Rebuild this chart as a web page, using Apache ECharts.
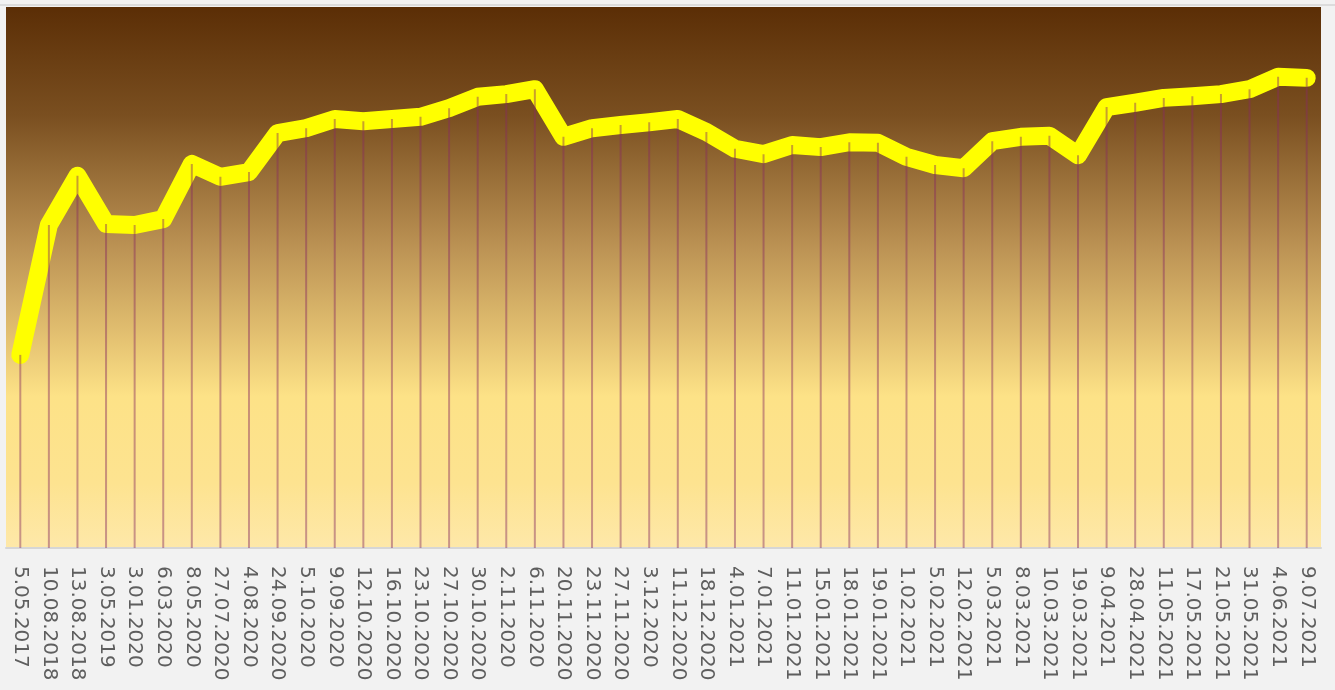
<!DOCTYPE html>
<html>
<head>
<meta charset="utf-8">
<style>
  html, body { margin: 0; padding: 0; background: #f2f2f2; }
  #chart { width: 1335px; height: 690px; }
</style>
<script src="https://cdn.jsdelivr.net/npm/echarts@6/dist/echarts.min.js"></script>
</head>
<body>
<div id="chart"></div>
<script>
const categories = [
  '5.05.2017','10.08.2018','13.08.2018','3.05.2019','3.01.2020','6.03.2020','8.05.2020','27.07.2020',
  '4.08.2020','24.09.2020','5.10.2020','9.09.2020','12.10.2020','16.10.2020','23.10.2020','27.10.2020',
  '30.10.2020','2.11.2020','6.11.2020','20.11.2020','23.11.2020','27.11.2020','3.12.2020','11.12.2020',
  '18.12.2020','4.01.2021','7.01.2021','11.01.2021','15.01.2021','18.01.2021','19.01.2021','1.02.2021',
  '5.02.2021','12.02.2021','5.03.2021','8.03.2021','10.03.2021','19.03.2021','9.04.2021','28.04.2021',
  '11.05.2021','17.05.2021','21.05.2021','31.05.2021','4.06.2021','9.07.2021'
];
const values = [
  35.7, 59.7, 68.8, 59.9, 59.7, 60.8, 71.0, 68.6,
  69.5, 76.7, 77.6, 79.3, 78.9, 79.3, 79.7, 81.3,
  83.4, 83.9, 84.8, 76.0, 77.6, 78.2, 78.7, 79.3,
  76.9, 73.8, 72.8, 74.5, 74.1, 75.0, 74.9, 72.3,
  70.8, 70.2, 75.2, 76.0, 76.2, 72.6, 81.5, 82.3,
  83.2, 83.5, 83.9, 84.8, 87.1, 86.9
];

const chart = echarts.init(document.getElementById('chart'), null, { renderer: 'canvas' });
chart.setOption({
  animation: false,
  backgroundColor: '#f2f2f2',
  graphic: [{
    type: 'rect', z: 100,
    shape: { x: 0, y: 4, width: 1335, height: 2 },
    style: { fill: '#dcdcdc' }
  }],
  grid: {
    left: 6, right: 14, top: 7, bottom: 142,
    show: true,
    borderWidth: 0,
    backgroundColor: new echarts.graphic.LinearGradient(0, 0, 0, 1, [
      { offset: 0, color: '#5b2e06' },
      { offset: 0.2, color: '#7a4f20' },
      { offset: 0.45, color: '#bd9455' },
      { offset: 0.62, color: '#e6c473' },
      { offset: 0.72, color: '#fde287' },
      { offset: 0.88, color: '#fde390' },
      { offset: 1, color: '#fee8a9' }
    ])
  },
  xAxis: {
    type: 'category',
    data: categories,
    boundaryGap: true,
    axisLine: { show: true, lineStyle: { color: '#d6d6d6', width: 2 } },
    axisTick: { show: false },
    splitLine: { show: false },
    axisLabel: {
      interval: 0,
      rotate: -90,
      margin: 18,
      color: '#5e5e5e',
      fontSize: 20,
      fontFamily: 'DejaVu Sans'
    }
  },
  yAxis: {
    type: 'value',
    min: 0,
    max: 100,
    show: false,
    splitLine: { show: false }
  },
  series: [
    {
      type: 'line',
      data: values,
      showSymbol: false,
      z: 2,
      lineStyle: { color: '#ffff00', width: 18, cap: 'round', join: 'round' }
    },
    {
      type: 'bar',
      data: values,
      barWidth: 2,
      z: 3,
      itemStyle: { color: 'rgba(135,45,95,0.45)' }
    }
  ]
});
</script>
</body>
</html>
